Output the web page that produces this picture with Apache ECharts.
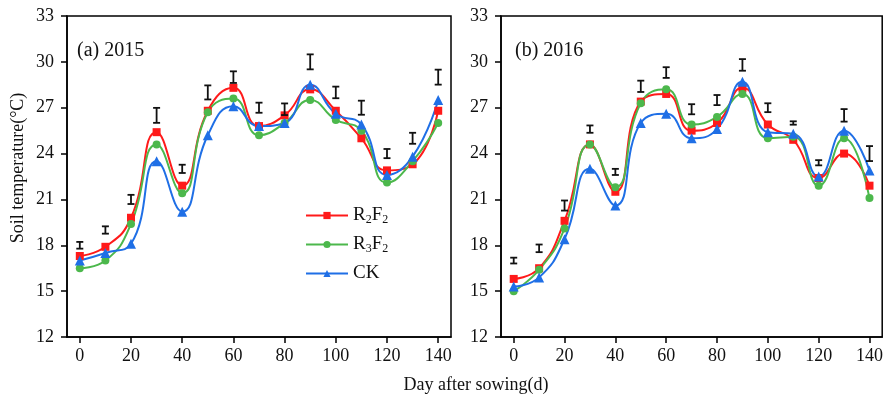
<!DOCTYPE html>
<html>
<head>
<meta charset="utf-8">
<script src="https://cdn.jsdelivr.net/npm/echarts@6/dist/echarts.min.js"></script>
<style>
html,body{margin:0;padding:0;background:#fff;}
#chart{width:886px;height:398px;}
</style>
</head>
<body>
<div id="chart"></div>
<script>
// ---- data ----
const days = [0, 10, 20, 30, 40, 50, 60, 70, 80, 90, 100, 110, 120, 130, 140];
const xTicks = [0, 20, 40, 60, 80, 100, 120, 140];
const seriesNames = ['R2F2', 'R3F2', 'CK'];

// 2015
const r2f2_2015 = [17.3, 17.9, 19.8, 25.4, 21.9, 26.8, 28.3, 25.8, 26.5, 28.2, 26.8, 25.0, 22.9, 23.3, 26.8];
const r3f2_2015 = [16.5, 17.0, 19.4, 24.6, 21.4, 26.7, 27.6, 25.2, 26.0, 27.5, 26.2, 25.5, 22.1, 23.5, 26.0];
const ck_2015   = [17.0, 17.5, 18.1, 23.5, 20.2, 25.2, 27.1, 25.8, 26.0, 28.5, 26.6, 25.9, 22.6, 23.8, 27.5];
const errMid_2015  = [18.0, 19.0, 21.0, 26.5, 23.0, 28.0, 29.0, 27.0, 26.9, 30.0, 28.0, 27.0, 24.0, 25.0, 29.0];
const errHalf_2015 = [0.22, 0.24, 0.30, 0.49, 0.27, 0.46, 0.38, 0.33, 0.38, 0.49, 0.38, 0.46, 0.30, 0.36, 0.49];

// 2016
const r2f2_2016 = [15.8, 16.5, 19.6, 24.6, 21.5, 27.4, 27.9, 25.5, 26.0, 28.3, 25.9, 24.9, 22.4, 24.0, 21.9];
const r3f2_2016 = [15.0, 16.4, 19.1, 24.6, 21.8, 27.3, 28.2, 25.9, 26.4, 27.9, 25.0, 25.1, 21.9, 25.0, 21.1];
const ck_2016   = [15.3, 15.9, 18.4, 23.0, 20.6, 26.0, 26.6, 25.0, 25.6, 28.7, 25.4, 25.3, 22.5, 25.5, 22.9];
const errMid_2016  = [17.0, 17.8, 20.6, 25.6, 22.8, 28.4, 29.3, 26.9, 27.5, 29.8, 27.0, 26.0, 23.4, 26.5, 24.0];
const errHalf_2016 = [0.19, 0.25, 0.33, 0.24, 0.20, 0.37, 0.35, 0.33, 0.33, 0.38, 0.29, 0.11, 0.17, 0.41, 0.49];

const panelLabels = ['(a) 2015', '(b) 2016'];
const yTitle = 'Soil temperature(\u00B0C)';
const xTitle = 'Day after sowing(d)';

// ---- styles ----
const FONT = '"Liberation Serif", "Times New Roman", serif';
const colors = { R2F2: '#ff1a1a', R3F2: '#4cb84c', CK: '#1f6fe6' };
const symbols = { R2F2: 'rect', R3F2: 'circle', CK: 'triangle' };

const chart = echarts.init(document.getElementById('chart'), null, { renderer: 'canvas' });

const grids = [
  { left: 67, top: 16, width: 384, height: 321 },
  { left: 501, top: 16, width: 383, height: 321 }
];

function xAxisFor(i) {
  return {
    type: 'value', gridIndex: i, min: -5, max: 145,
    axisLine: { show: true, onZero: false, lineStyle: { color: '#000', width: 1.5 } },
    axisTick: { show: true, inside: false, length: 6, customValues: xTicks, lineStyle: { color: '#000', width: 1.5 } },
    axisLabel: { show: true, customValues: xTicks, margin: 10, color: '#111', fontFamily: FONT, fontSize: 18 },
    splitLine: { show: false }
  };
}
function yAxisFor(i) {
  return {
    type: 'value', gridIndex: i, min: 12, max: 33, interval: 3,
    axisLine: { show: true, onZero: false, lineStyle: { color: '#000', width: 1.5 } },
    axisTick: { show: true, inside: false, length: 6, lineStyle: { color: '#000', width: 1.5 } },
    axisLabel: { show: true, margin: 13, color: '#111', fontFamily: FONT, fontSize: 18 },
    splitLine: { show: false }
  };
}

function lineSeries(name, values, gi) {
  return {
    type: 'line', name: name, xAxisIndex: gi, yAxisIndex: gi,
    data: days.map((d, k) => [d, values[k]]),
    smooth: 0.5,
    symbol: symbols[name], symbolSize: name === 'CK' ? 10 : 8,
    itemStyle: { color: colors[name] },
    lineStyle: { color: colors[name], width: 2 },
    z: 3
  };
}

function errRender(params, api) {
  const x = api.value(0), c = api.value(1), h = api.value(2);
  const top = api.coord([x, c + h]);
  const bot = api.coord([x, c - h]);
  const w = 3.5;
  const st = { stroke: '#111', lineWidth: 1.8 };
  return {
    type: 'group', children: [
      { type: 'line', shape: { x1: top[0], y1: top[1], x2: bot[0], y2: bot[1] }, style: st },
      { type: 'line', shape: { x1: top[0] - w, y1: top[1], x2: top[0] + w, y2: top[1] }, style: st },
      { type: 'line', shape: { x1: bot[0] - w, y1: bot[1], x2: bot[0] + w, y2: bot[1] }, style: st }
    ]
  };
}
function errSeries(mid, half, gi) {
  return {
    type: 'custom', name: 'err' + gi, xAxisIndex: gi, yAxisIndex: gi,
    renderItem: errRender,
    data: days.map((d, k) => [d, mid[k], half[k]]),
    encode: { x: 0, y: 1 },
    z: 4, silent: true
  };
}

const option = {
  backgroundColor: '#fff',
  animation: false,
  textStyle: { fontFamily: FONT },
  grid: grids.map(g => Object.assign({ show: true, borderColor: '#000', borderWidth: 1.5, backgroundColor: 'transparent' }, g)),
  xAxis: [xAxisFor(0), xAxisFor(1)],
  yAxis: [yAxisFor(0), yAxisFor(1)],
  legend: {
    data: seriesNames,
    orient: 'vertical',
    left: 305, top: 206, padding: 0,
    itemWidth: 42, itemHeight: 9, itemGap: 9,
    textStyle: {
      fontFamily: FONT, fontSize: 19, color: '#111',
      rich: {
        n: { fontFamily: FONT, fontSize: 19, color: '#111' },
        s: { fontFamily: FONT, fontSize: 12, color: '#111', padding: [9, 0, 0, 0] }
      }
    },
    formatter: function (name) {
      if (name === 'R2F2') return '{n|R}{s|2}{n|F}{s|2}';
      if (name === 'R3F2') return '{n|R}{s|3}{n|F}{s|2}';
      return '{n|' + name + '}';
    }
  },
  graphic: [
    { type: 'text', left: 77, top: 41, style: { text: panelLabels[0], font: '20px ' + FONT, fill: '#111' } },
    { type: 'text', left: 515, top: 41, style: { text: panelLabels[1], font: '20px ' + FONT, fill: '#111' } },
    { type: 'text', x: 476, y: 385, style: { text: xTitle, font: '18px ' + FONT, fill: '#111', align: 'center', verticalAlign: 'middle' } },
    { type: 'text', x: 18, y: 168, rotation: Math.PI / 2, style: { text: yTitle, font: '18px ' + FONT, fill: '#111', align: 'center', verticalAlign: 'middle' } }
  ],
  series: [
    lineSeries('R2F2', r2f2_2015, 0),
    lineSeries('R3F2', r3f2_2015, 0),
    lineSeries('CK', ck_2015, 0),
    errSeries(errMid_2015, errHalf_2015, 0),
    lineSeries('R2F2', r2f2_2016, 1),
    lineSeries('R3F2', r3f2_2016, 1),
    lineSeries('CK', ck_2016, 1),
    errSeries(errMid_2016, errHalf_2016, 1)
  ]
};
chart.setOption(option);
</script>
</body>
</html>
